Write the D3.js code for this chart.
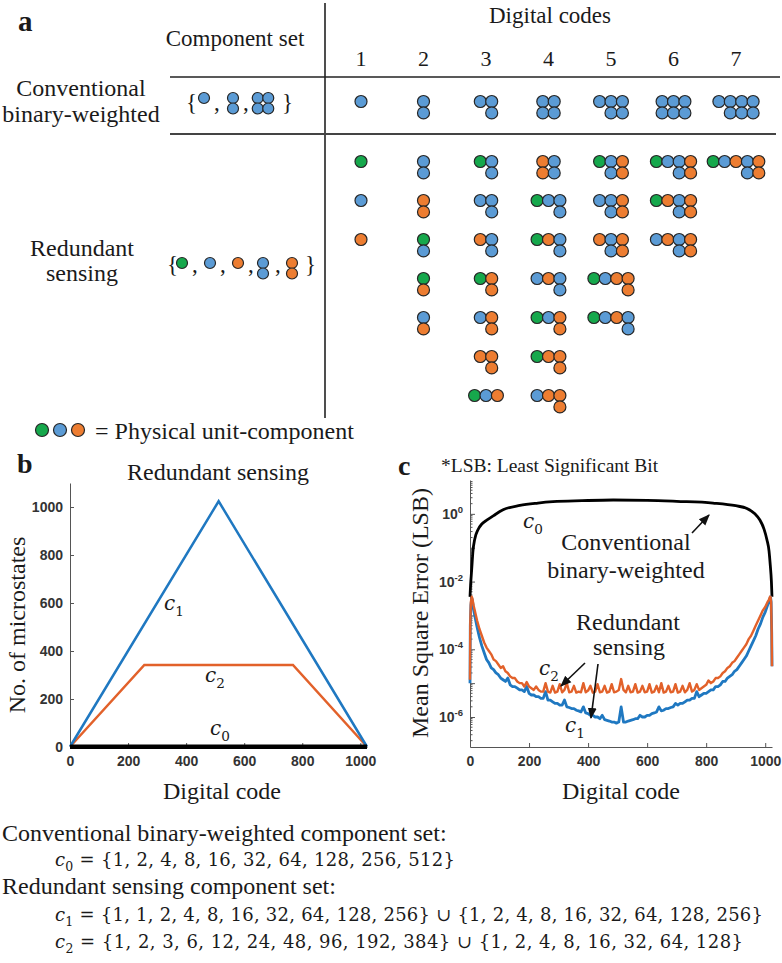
<!DOCTYPE html>
<html>
<head>
<meta charset="utf-8">
<script src="https://cdn.jsdelivr.net/npm/d3@7"></script>
<style>
  body { margin: 0; background: #fff; }
  svg text { font-family: "Liberation Serif", "Times New Roman", serif; fill: #1a1a1a; }
  .tick text { font-family: "Liberation Sans", Arial, sans-serif; font-weight: bold; font-size: 14px; fill: #333; }
  .math { font-family: "DejaVu Serif", serif; }
</style>
</head>
<body>
<div id="figure"></div>
<script>
// ---- panel a: component sets and the combinations for each digital code ----
// a combination is written as columns left to right ("|"), each column top to bottom
const codes = [1, 2, 3, 4, 5, 6, 7];
const conventionalSet = ["B", "BB", "BB|BB"];
const redundantSet = ["G", "B", "O", "BB", "OO"];
const conventionalCombos = ["B", "BB", "B|BB", "BB|BB", "B|BB|BB", "BB|BB|BB", "B|BB|BB|BB"];
const redundantCombos = [
  ["G", "B", "O"],
  ["BB", "OO", "GB", "GO", "BO"],
  ["G|BB", "B|BB", "O|BB", "G|OO", "B|OO", "O|OO", "G|B|O"],
  ["OO|BB", "G|B|BB", "G|O|BB", "B|O|BB", "G|B|OO", "G|O|OO", "B|O|OO"],
  ["G|BB|OO", "B|BB|OO", "O|BB|OO", "G|B|O|OO", "G|B|O|BB"],
  ["G|B|BB|OO", "G|O|BB|OO", "B|O|BB|OO"],
  ["G|B|O|BB|OO"]
];
const legendUnits = ["G", "B", "O"];

// ---- panel b: number of microstates ----
const microCodesC0 = [0, 1023];
const microC0 = [1, 1];
const microCodesC1 = [0, 512, 1023];
const microC1 = [1, 1024, 1];
const microCodesC2 = [0, 256, 768, 1023];
const microC2 = [1, 342, 342, 1];
const microTicks = [0, 200, 400, 600, 800, 1000];

// ---- panel c: mean square error, stored as log10 exponents ----
const mseCodesC0 = [0, 2, 4, 6, 10, 16, 27, 40, 58, 80, 112, 169, 230, 281, 380, 485,
  600, 700, 823, 900, 938, 965, 982, 996, 1006, 1013, 1017, 1021, 1023];
const mseExpC0 = [-2.45, -2.1, -1.85, -1.6, -1.1, -0.75, -0.47, -0.3, -0.18, -0.05, 0.12, 0.25, 0.32, 0.36, 0.39, 0.41,
  0.4, 0.37, 0.32, 0.24, 0.16, 0.0, -0.18, -0.45, -0.77, -1.1, -1.5, -2.0, -2.45];

const mseCodes = [
  0, 1, 3, 6, 8, 12, 16,
  24, 32, 40, 48, 56, 64, 72, 80,
  88, 96, 104, 112, 120, 128, 136, 144,
  152, 160, 168, 176, 184, 192, 200, 208,
  216, 224, 232, 240, 248, 256, 264, 272,
  280, 288, 296, 304, 312, 320, 328, 336,
  344, 352, 360, 368, 376, 384, 392, 400,
  408, 416, 424, 432, 440, 448, 456, 464,
  472, 480, 488, 496, 504, 512, 520, 528,
  536, 544, 552, 560, 568, 576, 584, 592,
  600, 608, 616, 624, 632, 640, 648, 656,
  664, 672, 680, 688, 696, 704, 712, 720,
  728, 736, 744, 752, 760, 768, 776, 784,
  792, 800, 808, 816, 824, 832, 840, 848,
  856, 864, 872, 880, 888, 896, 904, 912,
  920, 928, 936, 944, 952, 960, 968, 976,
  984, 992, 1000, 1008, 1012, 1016, 1018, 1020, 1022, 1023
];
const mseExpC2 = [
  -4.9, -3.2, -2.6, -2.45, -2.5, -2.7, -2.85,
  -3.15, -3.4, -3.6, -3.8, -3.95, -4.05, -4.15, -4.3,
  -4.35, -4.45, -4.55, -4.5, -4.65, -4.7, -4.8, -4.85,
  -4.85, -4.95, -5.0, -5.0, -5.1, -4.97, -5.1, -5.15,
  -5.2, -5.1, -5.2, -5.25, -5.25, -5.0, -5.25, -5.28,
  -5.08, -5.28, -5.25, -5.03, -5.27, -5.2, -5.0, -5.27,
  -5.25, -5.08, -5.28, -5.25, -5.27, -5.0, -5.27, -5.22,
  -5.08, -5.28, -5.25, -5.03, -5.27, -5.25, -5.08, -5.28,
  -5.25, -5.03, -5.27, -5.25, -5.2, -4.88, -5.2, -5.27,
  -5.08, -5.27, -5.25, -5.03, -5.28, -5.25, -5.08, -5.27,
  -5.25, -5.03, -5.28, -5.25, -5.08, -5.27, -5.0, -5.28,
  -5.25, -5.08, -5.27, -5.25, -5.03, -5.28, -5.25, -5.08,
  -5.27, -5.2, -5.0, -5.25, -5.2, -5.03, -5.2, -5.15,
  -5.1, -5.05, -4.92, -5.0, -4.95, -4.85, -4.85, -4.8,
  -4.7, -4.65, -4.55, -4.5, -4.4, -4.35, -4.25, -4.15,
  -4.05, -3.95, -3.85, -3.7, -3.6, -3.45, -3.3, -3.15,
  -3.0, -2.85, -2.75, -2.6, -2.55, -2.45, -2.45, -2.6, -3.5, -4.5
];
const mseExpC1 = [
  -5.0, -3.3, -2.7, -2.5, -2.55, -2.8, -3.0,
  -3.35, -3.65, -3.9, -4.1, -4.3, -4.4, -4.55, -4.6,
  -4.7, -4.75, -4.85, -4.9, -4.95, -4.85, -5.05, -5.1,
  -5.1, -5.15, -5.2, -5.2, -5.25, -5.1, -5.3, -5.35,
  -5.35, -5.4, -5.4, -5.45, -5.45, -5.25, -5.5, -5.5,
  -5.55, -5.6, -5.6, -5.65, -5.65, -5.5, -5.7, -5.72,
  -5.75, -5.75, -5.8, -5.82, -5.85, -5.7, -5.88, -5.9,
  -5.95, -5.95, -6.0, -6.0, -6.05, -5.95, -6.08, -6.1,
  -6.12, -6.15, -6.15, -6.18, -6.15, -5.7, -6.15, -6.15,
  -6.12, -6.1, -6.08, -6.05, -6.05, -5.95, -6.0, -6.0,
  -5.95, -5.95, -5.9, -5.88, -5.85, -5.7, -5.82, -5.8,
  -5.75, -5.75, -5.72, -5.7, -5.6, -5.65, -5.6, -5.6,
  -5.55, -5.5, -5.5, -5.45, -5.45, -5.25, -5.4, -5.35,
  -5.3, -5.3, -5.25, -5.2, -5.2, -5.1, -5.1, -5.05,
  -4.95, -4.95, -4.85, -4.8, -4.75, -4.65, -4.6, -4.5,
  -4.4, -4.3, -4.2, -4.05, -3.9, -3.75, -3.6, -3.4,
  -3.25, -3.05, -2.9, -2.7, -2.6, -2.5, -2.45, -2.6, -3.5, -4.5
];
const mseTickExps = [0, -2, -4, -6];
const codeTicks = [0, 200, 400, 600, 800, 1000];

// ---- component sets written under the plots ----
const setC0 = [1, 2, 4, 8, 16, 32, 64, 128, 256, 512];
const setC1a = [1, 1, 2, 4, 8, 16, 32, 64, 128, 256];
const setC1b = [1, 2, 4, 8, 16, 32, 64, 128, 256];
const setC2a = [1, 2, 3, 6, 12, 24, 48, 96, 192, 384];
const setC2b = [1, 2, 4, 8, 16, 32, 64, 128];

const unitColours = {G: "#16a84c", B: "#5b9bd5", O: "#ed7d31"};
const blue = "#1f78c1", orange = "#e2612a";

const svg = d3.select("#figure").append("svg")
  .attr("width", 782)
  .attr("height", 963);

svg.append("defs").append("marker")
  .attr("id", "arrow")
  .attr("viewBox", "0 0 10 10")
  .attr("refX", 9).attr("refY", 5)
  .attr("markerWidth", 7).attr("markerHeight", 7)
  .attr("orient", "auto")
  .append("path")
  .attr("d", "M0,1 L10,5 L0,9 Z")
  .attr("fill", "#111");

drawPanelA();
drawPanelB();
drawPanelC();
drawSets();

function unitsOf(combo, cx, top, sp) {
  const cols = combo.split("|");
  const left = cx - (cols.length - 1) * sp / 2;
  return cols.flatMap((col, i) =>
    col.split("").map((u, j) => ({u: u, x: left + i * sp, y: top + j * sp})));
}

function drawUnits(g, units, r) {
  g.selectAll(null)
    .data(units)
    .join("circle")
    .attr("cx", d => d.x)
    .attr("cy", d => d.y)
    .attr("r", r)
    .attr("fill", d => unitColours[d.u])
    .attr("stroke", "#262626")
    .attr("stroke-width", 1.2);
}

function drawPanelA() {
  const g = svg.append("g");
  const colX = d3.scalePoint().domain(codes).range([361, 736]);
  const rowY = d3.scaleLinear().domain([0, 6]).range([161.5, 395.5]);
  const sp = 11.4;

  g.append("text").attr("x", 18).attr("y", 31)
    .attr("font-weight", "bold").attr("font-size", 29).text("a");

  // table rules
  g.append("line").attr("x1", 325).attr("x2", 325).attr("y1", 3).attr("y2", 418)
    .attr("stroke", "#222").attr("stroke-width", 1.6);
  g.append("line").attr("x1", 170).attr("x2", 780).attr("y1", 77).attr("y2", 77)
    .attr("stroke", "#222").attr("stroke-width", 1.6);
  g.append("line").attr("x1", 170).attr("x2", 776).attr("y1", 134).attr("y2", 134)
    .attr("stroke", "#444").attr("stroke-width", 2);

  g.append("text").attr("x", 235).attr("y", 46).attr("text-anchor", "middle")
    .attr("font-size", 23).text("Component set");
  g.append("text").attr("x", 550).attr("y", 23).attr("text-anchor", "middle")
    .attr("font-size", 23).text("Digital codes");
  g.selectAll(null).data(codes).join("text")
    .attr("x", d => colX(d)).attr("y", 66).attr("text-anchor", "middle")
    .attr("font-size", 22).text(d => d);

  g.append("text").attr("x", 81).attr("y", 96).attr("text-anchor", "middle")
    .attr("font-size", 24).text("Conventional");
  g.append("text").attr("x", 81).attr("y", 122).attr("text-anchor", "middle")
    .attr("font-size", 24).text("binary-weighted");
  g.append("text").attr("x", 82).attr("y", 256).attr("text-anchor", "middle")
    .attr("font-size", 24).text("Redundant");
  g.append("text").attr("x", 82).attr("y", 281).attr("text-anchor", "middle")
    .attr("font-size", 24).text("sensing");

  // component sets in braces
  drawSetGlyph(g, conventionalSet, [204, 233, 263], [214, 243], 186, 282, 98, 110, sp - 0.9);
  drawSetGlyph(g, redundantSet, [182, 210, 238, 263, 292], [192, 220, 248, 275], 167, 305, 263, 272, sp - 0.9);

  const convUnits = conventionalCombos.flatMap((c, i) => unitsOf(c, colX(codes[i]), 101.5, sp));
  const redUnits = redundantCombos.flatMap((list, i) =>
    list.flatMap((c, k) => unitsOf(c, colX(codes[i]), rowY(k), sp)));
  drawUnits(g.append("g"), convUnits.concat(redUnits), 6);

  // legend
  drawUnits(g.append("g"), legendUnits.map((u, i) => ({u: u, x: 42 + i * 18, y: 430})), 6.5);
  g.append("text").attr("x", 95).attr("y", 439).attr("font-size", 24)
    .text("= Physical unit-component");
}

function drawSetGlyph(g, set, xs, commaXs, open, close, top, base, sp) {
  g.append("text").attr("x", open).attr("y", base).attr("font-size", 23).text("{");
  g.append("text").attr("x", close).attr("y", base).attr("font-size", 23).text("}");
  g.selectAll(null).data(commaXs).join("text")
    .attr("x", d => d).attr("y", base).attr("font-size", 23).text(",");
  drawUnits(g.append("g"), set.flatMap((c, i) => unitsOf(c, xs[i], top, sp)), 5.5);
}

function mathLabel(g, x, y, sub, size) {
  const t = g.append("text").attr("class", "math").attr("x", x).attr("y", y).attr("font-size", size);
  t.append("tspan").attr("font-style", "italic").text("c");
  t.append("tspan").attr("font-size", size * 0.68).attr("dy", size * 0.28).text(sub);
  return t;
}

function styleAxis(a) {
  a.select(".domain").attr("stroke", "#555").attr("stroke-width", 1);
  a.selectAll(".tick line").attr("stroke", "#555");
}

function drawPanelB() {
  const g = svg.append("g");
  const x = d3.scaleLinear().domain([0, 1023]).range([70, 367]);
  const y = d3.scaleLinear().domain([0, 1100]).range([747, 483]);

  g.append("text").attr("x", 17).attr("y", 473)
    .attr("font-weight", "bold").attr("font-size", 28).text("b");
  g.append("text").attr("x", 218).attr("y", 480).attr("text-anchor", "middle")
    .attr("font-size", 24).text("Redundant sensing");

  const xa = g.append("g").attr("transform", "translate(0,747)")
    .call(d3.axisBottom(x).tickValues(microTicks).tickFormat(d3.format("d"))
      .tickSizeInner(-4).tickSizeOuter(0).tickPadding(9));
  const ya = g.append("g").attr("transform", "translate(70,0)")
    .call(d3.axisLeft(y).tickValues(microTicks).tickFormat(d3.format("d"))
      .tickSizeInner(-4).tickSizeOuter(0).tickPadding(7));
  styleAxis(xa); styleAxis(ya);

  const line = d3.line().x(d => x(d[0])).y(d => y(d[1]));
  g.append("path").datum(d3.zip(microCodesC2, microC2))
    .attr("fill", "none").attr("stroke", orange).attr("stroke-width", 2.5).attr("d", line);
  g.append("path").datum(d3.zip(microCodesC1, microC1))
    .attr("fill", "none").attr("stroke", blue).attr("stroke-width", 2.5).attr("d", line);
  g.append("path").datum(d3.zip(microCodesC0, microC0))
    .attr("fill", "none").attr("stroke", "#000").attr("stroke-width", 4.5).attr("d", line);

  mathLabel(g, 164, 610, "1", 20);
  mathLabel(g, 205, 682, "2", 20);
  mathLabel(g, 210, 735, "0", 20);

  g.append("text").attr("transform", "translate(25,625) rotate(-90)")
    .attr("text-anchor", "middle").attr("font-size", 24).text("No. of microstates");
  g.append("text").attr("x", 222).attr("y", 799).attr("text-anchor", "middle")
    .attr("font-size", 24).text("Digital code");
}

function drawPanelC() {
  const g = svg.append("g");
  const x = d3.scaleLinear().domain([0, 1023]).range([470, 772]);
  const y = d3.scaleLog().domain([1.3e-7, 10]).range([747, 480]);

  g.append("text").attr("x", 398).attr("y", 475)
    .attr("font-weight", "bold").attr("font-size", 28).text("c");
  g.append("text").attr("x", 441).attr("y", 472)
    .attr("font-size", 19.5).text("*LSB: Least Significant Bit");

  const xa = g.append("g").attr("transform", "translate(0,747)")
    .call(d3.axisBottom(x).tickValues(codeTicks).tickFormat(d3.format("d"))
      .tickSizeInner(-4).tickSizeOuter(0).tickPadding(9));
  styleAxis(xa);

  const majors = d3.range(-6, 1).map(e => Math.pow(10, e));
  const minors = d3.range(-7, 1).flatMap(e => d3.range(2, 10).map(k => k * Math.pow(10, e)))
    .filter(v => v >= 1.3e-7 && v <= 10);
  const ya = g.append("g").attr("transform", "translate(470,0)")
    .call(d3.axisLeft(y).tickValues(majors).tickSizeInner(-5).tickSizeOuter(0).tickPadding(6)
      .tickFormat(d => mseTickExps.includes(Math.round(Math.log10(d))) ? "10" : ""));
  ya.selectAll(".tick text").each(function(d) {
    const e = Math.round(Math.log10(d));
    if (!mseTickExps.includes(e)) return;
    d3.select(this).append("tspan").attr("dy", -6).attr("font-size", 9.5).text(e);
  });
  ya.selectAll(".tick text").attr("x", -7);
  ya.append("g").selectAll("line").data(minors).join("line")
    .attr("x1", 0).attr("x2", 2.5).attr("y1", d => y(d)).attr("y2", d => y(d))
    .attr("stroke", "#555");
  styleAxis(ya);

  const line = d3.line().x(d => x(d[0])).y(d => y(Math.pow(10, d[1])));
  g.append("path").datum(d3.zip(mseCodesC0, mseExpC0))
    .attr("fill", "none").attr("stroke", "#000").attr("stroke-width", 2.8)
    .attr("d", line.curve(d3.curveMonotoneX));
  line.curve(d3.curveLinear);
  g.append("path").datum(d3.zip(mseCodes, mseExpC1))
    .attr("fill", "none").attr("stroke", blue).attr("stroke-width", 2.8)
    .attr("stroke-linejoin", "round").attr("d", line);
  g.append("path").datum(d3.zip(mseCodes, mseExpC2))
    .attr("fill", "none").attr("stroke", orange).attr("stroke-width", 2.4)
    .attr("stroke-linejoin", "round").attr("d", line);

  mathLabel(g, 523, 528, "0", 20);
  mathLabel(g, 539, 675, "2", 20);
  mathLabel(g, 565, 732, "1", 20);

  const label = (tx, ty, s) => g.append("text").attr("x", tx).attr("y", ty)
    .attr("text-anchor", "middle").attr("font-size", 24).text(s);
  label(626, 550, "Conventional");
  label(626, 578, "binary-weighted");
  label(628, 630, "Redundant");
  label(629, 655, "sensing");

  const arrow = (x1, y1, x2, y2) => g.append("line")
    .attr("x1", x1).attr("y1", y1).attr("x2", x2).attr("y2", y2)
    .attr("stroke", "#111").attr("stroke-width", 1.6).attr("marker-end", "url(#arrow)");
  arrow(692, 533, 709, 515);
  arrow(585, 663, 561, 686);
  arrow(598, 664, 591, 718);

  g.append("text").attr("transform", "translate(428,613) rotate(-90)")
    .attr("text-anchor", "middle").attr("font-size", 24).text("Mean Square Error (LSB)");
  g.append("text").attr("x", 621).attr("y", 799).attr("text-anchor", "middle")
    .attr("font-size", 24).text("Digital code");
}

function drawSets() {
  const g = svg.append("g");
  const brace = s => "{" + s.join(", ") + "}";
  const formula = (y, sub, body, len) => {
    const t = g.append("text").attr("class", "math").attr("x", 55).attr("y", y)
      .attr("font-size", 18).attr("textLength", len).attr("lengthAdjust", "spacing");
    t.append("tspan").attr("font-style", "italic").text("c");
    t.append("tspan").attr("font-size", 12.5).attr("dy", 5).text(sub);
    t.append("tspan").attr("dy", -5).text(" = " + body);
  };
  g.append("text").attr("x", 2).attr("y", 841).attr("font-size", 24)
    .text("Conventional binary-weighted component set:");
  formula(866, "0", brace(setC0), 400);
  g.append("text").attr("x", 2).attr("y", 894).attr("font-size", 24)
    .text("Redundant sensing component set:");
  formula(921, "1", brace(setC1a) + " \u222A " + brace(setC1b), 708);
  formula(948, "2", brace(setC2a) + " \u222A " + brace(setC2b), 688);
}
</script>
</body>
</html>
